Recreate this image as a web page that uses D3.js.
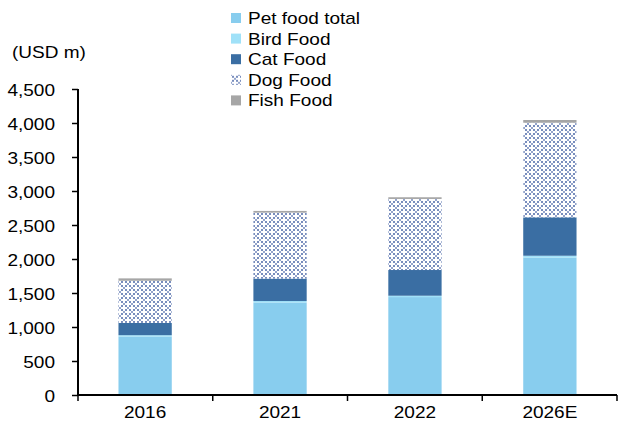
<!DOCTYPE html>
<html>
<head>
<meta charset="utf-8">
<script src="https://cdn.jsdelivr.net/npm/d3@7"></script>
<style>
  html, body { margin: 0; padding: 0; background: #fff; }
  svg { display: block; font-family: Arial, "Liberation Sans", sans-serif; }
</style>
</head>
<body>
<svg id="chart" width="624" height="428"></svg>
<script>
// Market size by segment, USD m
const years = ["2016", "2021", "2022", "2026E"];
const seriesNames = ["Pet food total", "Bird Food", "Cat Food", "Dog Food", "Fish Food"];
const petFoodTotal = [860, 1360, 1440, 2020];
const birdFood = [20, 22, 20, 28];
const catFood = [180, 330, 378, 565];
const dogFood = [620, 970, 1045, 1391];
const fishFood = [35, 25, 25, 40];
const yTicks = [0, 500, 1000, 1500, 2000, 2500, 3000, 3500, 4000, 4500];

const colors = ["#88CDEE", "#A0E1F8", "#3A6EA3", "url(#dogPattern)", "#A6A6A6"];
const FS = 17, SX = 1.12; // font size and horizontal stretch of all labels

const rows = years.map((y, i) => ({
  year: y,
  "Pet food total": petFoodTotal[i],
  "Bird Food": birdFood[i],
  "Cat Food": catFood[i],
  "Dog Food": dogFood[i],
  "Fish Food": fishFood[i]
}));

const svg = d3.select("#chart");
const margin = { left: 78, right: 7, top: 89, bottom: 33 };
const W = 624, H = 428;

// Lattice fill for the dog food segment: white plus marks on blue
const defs = svg.append("defs");
const T = 8;
const pat = defs.append("pattern")
  .attr("id", "dogPattern")
  .attr("patternUnits", "userSpaceOnUse")
  .attr("width", T).attr("height", T);
pat.append("rect").attr("width", T).attr("height", T).attr("fill", "#5872AE");
const plus = (cx, cy) => {
  pat.append("rect").attr("x", cx - 3.2).attr("y", cy - 1.1).attr("width", 6.4).attr("height", 2.2).attr("fill", "#fff");
  pat.append("rect").attr("x", cx - 1.1).attr("y", cy - 3.2).attr("width", 2.2).attr("height", 6.4).attr("fill", "#fff");
};
plus(T / 2, T / 2);
plus(0, 0); plus(T, 0); plus(0, T); plus(T, T);

const x = d3.scaleBand()
  .domain(years)
  .range([margin.left, W - margin.right])
  .paddingInner(0.605)
  .paddingOuter(0.3);

const y = d3.scaleLinear()
  .domain([0, 4500])
  .range([H - margin.bottom, margin.top]);

const stack = d3.stack().keys(seriesNames);
const layers = stack(rows);

svg.append("g")
  .selectAll("g")
  .data(layers)
  .join("g")
  .attr("fill", (d, i) => colors[i])
  .selectAll("rect")
  .data(d => d)
  .join("rect")
  .attr("x", d => x(d.data.year))
  .attr("width", x.bandwidth())
  .attr("y", d => y(d[1]))
  .attr("height", d => y(d[0]) - y(d[1]));

// Stretched text helper
function label(g, tx, ty, str, anchor) {
  return g.append("text")
    .attr("transform", `translate(${tx},${ty}) scale(${SX},1)`)
    .attr("text-anchor", anchor || "start")
    .attr("font-size", FS)
    .attr("fill", "#000")
    .text(str);
}

// Y axis
const yAxis = svg.append("g")
  .attr("transform", `translate(${margin.left},0)`)
  .call(d3.axisLeft(y).tickValues(yTicks).tickSize(6).tickFormat(d3.format(",")));
yAxis.select(".domain").attr("stroke", "#000").attr("stroke-width", 2).attr("d", `M0,${y(4500)}V${y(0)}`);
yAxis.selectAll(".tick line").attr("stroke", "#000").attr("stroke-width", 1.5);
yAxis.selectAll(".tick text")
  .attr("x", null).attr("dy", null)
  .attr("transform", `translate(-23,6) scale(${SX},1)`)
  .attr("font-size", FS).attr("fill", "#000");

// X axis with boundary ticks between categories
const xg = svg.append("g").attr("transform", `translate(0,${y(0)})`);
xg.append("line")
  .attr("x1", margin.left).attr("x2", W - margin.right)
  .attr("stroke", "#000").attr("stroke-width", 2);
const bounds = years.map((d, i) => margin.left + i * (W - margin.left - margin.right) / years.length)
  .concat([W - margin.right]);
xg.selectAll("line.b")
  .data(bounds)
  .join("line")
  .attr("class", "b")
  .attr("x1", d => d).attr("x2", d => d)
  .attr("y1", 0).attr("y2", 6)
  .attr("stroke", "#000").attr("stroke-width", 1.5);
years.forEach(d => label(xg, x(d) + x.bandwidth() / 2, 23, d, "middle"));

// Unit label
label(svg, 12, 58, "(USD m)");

// Legend
const legend = svg.append("g").attr("transform", "translate(231,9)");
seriesNames.forEach((name, i) => {
  const g = legend.append("g").attr("transform", `translate(0,${i * 20.6})`);
  g.append("rect")
    .attr("x", 0).attr("y", 4)
    .attr("width", 10).attr("height", 10)
    .attr("fill", colors[i]);
  label(g, 17, 15, name);
});
</script>
</body>
</html>
